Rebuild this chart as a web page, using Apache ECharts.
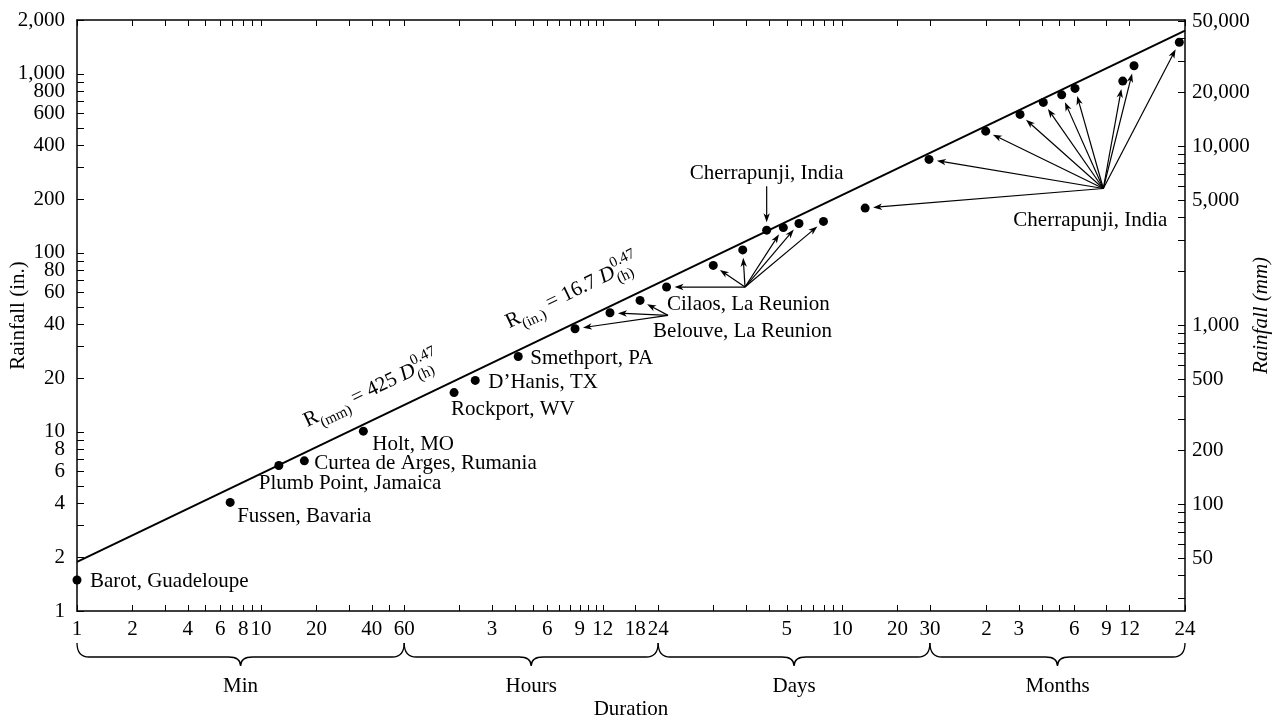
<!DOCTYPE html>
<html>
<head>
<meta charset="utf-8">
<script src="https://cdn.jsdelivr.net/npm/echarts@6/dist/echarts.min.js"></script>
<style>
html,body{margin:0;padding:0;background:#fff}
#chart{width:1279px;height:723px}
</style>
</head>
<body>
<div id="chart"></div>
<script>
// ---------------- data (durations in minutes, rainfall in inches) ----------------
const stationNames = ['Barot, Guadeloupe', 'Fussen, Bavaria', 'Plumb Point, Jamaica', 'Curtea de Arges, Rumania',
  'Holt, MO', 'Rockport, WV', "D\u2019Hanis, TX", 'Smethport, PA'];
const stationDuration = [1, 6.8, 12.5, 17.2, 36, 112, 146, 250];
const stationRainfall = [1.49, 4.04, 6.5, 6.9, 10.1, 16.6, 19.4, 26.4];

const belouveDuration = [509, 788, 1148];
const belouveRainfall = [37.7, 46.3, 54.3];

const cilaosDuration = [1600, 2870, 4150, 6900, 8390, 11400];
const cilaosRainfall = [64.5, 85.2, 104, 138.5, 146, 150];

const cherraDayDuration = [5600];
const cherraDayRainfall = [134];

const cherraMonthDuration = [19200, 42700, 86800, 133400, 178500, 224700, 265400, 482300, 555400, 979100];
const cherraMonthRainfall = [178, 333, 479, 594, 693, 764, 830, 912, 1111, 1502];

// label/arrow source points (where the pointer arrows start)
const sourceNames = ['Belouve, La Reunion', 'Cilaos, La Reunion', 'Cherrapunji, India', 'Cherrapunji, India'];
const sourceDuration = [1630, 4270, 5600, 378200];
const sourceRainfall = [44.8, 64.5, 236, 229];

// envelope line R = 16.7 D^0.47
const envelopeDuration = [1, 1051200];
const envelopeRainfall = [1.88, 1746];

// equation annotations
const equationUnits = ['(mm)', '(in.)'];
const equationCoefs = ['425', '16.7'];
const equationDuration = [17.9, 224];
const equationRainfall = [10.6, 37.7];

// axis ticks
const xTickValues = [1, 2, 3, 4, 5, 6, 7, 8, 9, 10, 20, 30, 40, 50, 60,
  120, 180, 240, 300, 360, 420, 480, 540, 600, 660, 720, 1080, 1440,
  2880, 4320, 5760, 7200, 8640, 10080, 11520, 12960, 14400, 28800, 43200,
  87600, 131400, 175200, 219000, 262800, 394200, 525600, 1051200];
const xLabelValues = [1, 2, 4, 6, 8, 10, 20, 40, 60, 180, 360, 540, 720, 1080, 1440,
  7200, 14400, 28800, 43200, 87600, 131400, 262800, 394200, 525600, 1051200];
const xLabelTexts = ['1', '2', '4', '6', '8', '10', '20', '40', '60', '3', '6', '9', '12', '18', '24',
  '5', '10', '20', '30', '2', '3', '6', '9', '12', '24'];

const yTickValues = [1, 2, 3, 4, 5, 6, 7, 8, 9, 10, 20, 30, 40, 50, 60, 70, 80, 90, 100,
  200, 300, 400, 500, 600, 700, 800, 900, 1000, 2000];
const yLabelValues = [1, 2, 4, 6, 8, 10, 20, 40, 60, 80, 100, 200, 400, 600, 800, 1000, 2000];

const mmTickValues = [30, 40, 50, 60, 70, 80, 90, 100, 200, 300, 400, 500, 600, 700, 800, 900, 1000,
  2000, 3000, 4000, 5000, 6000, 7000, 8000, 9000, 10000, 20000, 30000, 40000, 50000];
const mmLabelValues = [50, 100, 200, 500, 1000, 5000, 10000, 20000, 50000];

const periodBounds = [1, 60, 1440, 43200, 1051200];
const periodNames = ['Min', 'Hours', 'Days', 'Months'];

// ---------------- styling ----------------
const FONT = '"Liberation Serif", "Times New Roman", serif';
const FS = 21;
const stationLabelOffset = [[13, 1], [7, 14], [-20, 18], [10, 3], [9, 13], [-3, 17], [13, 2], [12, 2]];
const sourceLabelStyle = [[-15, 16, 'left'], [-78, 17, 'left'], [0, -13, 'center'], [-13, 32, 'center']];

// ---------------- build series data ----------------
const dotData = [];
stationNames.forEach((n, i) => {
  dotData.push({
    value: [stationDuration[i], stationRainfall[i]],
    label: {
      show: true, formatter: n, position: 'inside', align: 'left', verticalAlign: 'middle',
      offset: stationLabelOffset[i], color: '#000', fontFamily: FONT, fontSize: FS, opacity: 1
    }
  });
});
[[belouveDuration, belouveRainfall], [cilaosDuration, cilaosRainfall],
 [cherraDayDuration, cherraDayRainfall], [cherraMonthDuration, cherraMonthRainfall]].forEach(([ds, rs]) => {
  ds.forEach((d, i) => dotData.push({ value: [d, rs[i]] }));
});

const arrowData = [];
[[belouveDuration, belouveRainfall], [cilaosDuration, cilaosRainfall],
 [cherraDayDuration, cherraDayRainfall], [cherraMonthDuration, cherraMonthRainfall]].forEach(([ds, rs], g) => {
  ds.forEach((d, i) => arrowData.push([sourceDuration[g], sourceRainfall[g], d, rs[i]]));
});

const sourceData = sourceNames.map((n, i) => ({
  value: [sourceDuration[i], sourceRainfall[i]],
  label: {
    show: true, formatter: n, position: 'inside', align: sourceLabelStyle[i][2], verticalAlign: 'middle',
    offset: [sourceLabelStyle[i][0], sourceLabelStyle[i][1]], color: '#000', fontFamily: FONT, fontSize: FS, opacity: 1
  }
}));

const periodData = periodNames.map((n, i) => [periodBounds[i], periodBounds[i + 1]]);
const equationData = equationUnits.map((u, i) => [equationDuration[i], equationRainfall[i]]);

function xLabel(v) {
  let best = -1, bd = 1e9;
  xLabelValues.forEach((t, i) => {
    const d = Math.abs(Math.log10(v) - Math.log10(t));
    if (d < bd) { bd = d; best = i; }
  });
  return bd < 0.01 ? xLabelTexts[best] : '';
}
const numFmt = v => Math.round(v).toLocaleString('en-US');

const eqRich = {
  m: { fontSize: FS, fontFamily: FONT, fill: '#000', lineHeight: 32, verticalAlign: 'middle' },
  i: { fontSize: FS, fontFamily: FONT, fontStyle: 'italic', fill: '#000', lineHeight: 32, verticalAlign: 'middle' },
  sb: { fontSize: 15, fontFamily: FONT, fill: '#000', verticalAlign: 'bottom' },
  sp: { fontSize: 15, fontFamily: FONT, fill: '#000', verticalAlign: 'top' },
  gm: { fontSize: FS, fontFamily: FONT, fill: 'rgba(0,0,0,0)', lineHeight: 32, verticalAlign: 'middle' },
  gi: { fontSize: FS, fontFamily: FONT, fontStyle: 'italic', fill: 'rgba(0,0,0,0)', lineHeight: 32, verticalAlign: 'middle' },
  gsb: { fontSize: 15, fontFamily: FONT, fill: 'rgba(0,0,0,0)', verticalAlign: 'bottom' }
};

const axisLineStyle = { color: '#000', width: 1.5 };
const tickStyle = { color: '#000', width: 1 };
const labelStyle = { color: '#000', fontFamily: FONT, fontSize: FS };

const chart = echarts.init(document.getElementById('chart'), null, { renderer: 'canvas' });
chart.setOption({
  animation: false,
  backgroundColor: '#fff',
  grid: { left: 77, right: 94, top: 20, bottom: 112, containLabel: false, outerBoundsMode: 'none' },
  xAxis: [{
    type: 'log', logBase: 10, min: 1, max: 1051200, position: 'bottom',
    axisLine: { lineStyle: axisLineStyle },
    axisTick: { inside: true, length: 6, customValues: xTickValues, lineStyle: tickStyle },
    axisLabel: Object.assign({ customValues: xLabelValues, formatter: xLabel, margin: 8, hideOverlap: false }, labelStyle),
    splitLine: { show: false }, minorTick: { show: false }, minorSplitLine: { show: false },
    name: 'Duration', nameLocation: 'middle', nameGap: 88, nameMoveOverlap: false,
    nameTextStyle: { color: '#000', fontFamily: FONT, fontSize: FS }
  }, {
    type: 'log', logBase: 10, min: 1, max: 1051200, position: 'top',
    axisLine: { lineStyle: axisLineStyle },
    axisTick: { inside: true, length: 6, customValues: xTickValues, lineStyle: tickStyle },
    axisLabel: { show: false }, splitLine: { show: false }
  }],
  yAxis: [{
    type: 'log', logBase: 10, min: 1, max: 2000, position: 'left',
    axisLine: { lineStyle: axisLineStyle },
    axisTick: { inside: true, length: 7, customValues: yTickValues, lineStyle: tickStyle },
    axisLabel: Object.assign({ customValues: yLabelValues, formatter: numFmt, margin: 12, hideOverlap: false }, labelStyle),
    splitLine: { show: false },
    name: 'Rainfall (in.)', nameLocation: 'middle', nameGap: 48, nameRotate: 90, nameMoveOverlap: false,
    nameTextStyle: { color: '#000', fontFamily: FONT, fontSize: FS }
  }, {
    type: 'log', logBase: 10, min: 25.4, max: 50800, position: 'right',
    axisLine: { lineStyle: axisLineStyle },
    axisTick: { inside: true, length: 7, customValues: mmTickValues, lineStyle: tickStyle },
    axisLabel: Object.assign({ customValues: mmLabelValues, formatter: numFmt, margin: 7, hideOverlap: false }, labelStyle),
    splitLine: { show: false },
    name: 'Rainfall (mm)', nameLocation: 'middle', nameGap: 66, nameRotate: 90, nameMoveOverlap: false,
    nameTextStyle: { color: '#000', fontFamily: FONT, fontSize: FS, fontStyle: 'italic' }
  }],
  series: [{
    type: 'line', xAxisIndex: 0, yAxisIndex: 0, silent: true, z: 2,
    data: envelopeDuration.map((d, i) => [d, envelopeRainfall[i]]),
    showSymbol: false, symbol: 'none', lineStyle: { color: '#000', width: 2, opacity: 1 }
  }, {
    type: 'custom', xAxisIndex: 0, yAxisIndex: 0, silent: true, z: 3, clip: false,
    encode: { x: [0, 2], y: [1, 3] },
    data: arrowData,
    renderItem: function (params, api) {
      const p1 = api.coord([api.value(0), api.value(1)]);
      const p2 = api.coord([api.value(2), api.value(3)]);
      const dx = p2[0] - p1[0], dy = p2[1] - p1[1];
      const len = Math.hypot(dx, dy);
      const ux = dx / len, uy = dy / len;
      const gap = 8, hl = 9, hw = 3.2;
      const tip = [p2[0] - ux * gap, p2[1] - uy * gap];
      const base = [tip[0] - ux * hl, tip[1] - uy * hl];
      return {
        type: 'group', children: [
          { type: 'line', shape: { x1: p1[0], y1: p1[1], x2: base[0] + ux * 3, y2: base[1] + uy * 3 }, style: { stroke: '#000', lineWidth: 1.2 } },
          { type: 'polygon', shape: { points: [tip, [base[0] - uy * hw, base[1] + ux * hw], [base[0] + ux * 2.5, base[1] + uy * 2.5], [base[0] + uy * hw, base[1] - ux * hw]] }, style: { fill: '#000' } }
        ]
      };
    }
  }, {
    type: 'scatter', xAxisIndex: 0, yAxisIndex: 0, silent: true, z: 5, clip: false,
    symbol: 'circle', symbolSize: 9, itemStyle: { color: '#000', opacity: 1 },
    data: dotData
  }, {
    type: 'scatter', xAxisIndex: 0, yAxisIndex: 0, silent: true, z: 6, clip: false,
    symbol: 'circle', symbolSize: 1, itemStyle: { color: '#fff', opacity: 0 },
    data: sourceData
  }, {
    type: 'custom', xAxisIndex: 0, yAxisIndex: 0, silent: true, z: 4, clip: false,
    encode: { x: [0, 1] },
    data: periodData,
    renderItem: function (params, api) {
      const x0 = api.coord([api.value(0), 1])[0];
      const x1 = api.coord([api.value(1), 1])[0];
      const yb = api.coord([api.value(0), 1])[1];
      const yT = yb + 32, yL = yb + 46, yP = yb + 55, r = 12;
      const xm = (x0 + x1) / 2;
      const d = `M${x0} ${yT} Q${x0} ${yL} ${x0 + r} ${yL} L${xm - r} ${yL} Q${xm} ${yL} ${xm} ${yP} ` +
        `M${xm} ${yP} Q${xm} ${yL} ${xm + r} ${yL} L${x1 - r} ${yL} Q${x1} ${yL} ${x1} ${yT}`;
      return {
        type: 'group', children: [
          { type: 'path', shape: { pathData: d }, style: { stroke: '#000', fill: null, lineWidth: 1.3 } },
          { type: 'text', x: xm, y: yb + 75, style: { text: periodNames[params.dataIndex], align: 'center', verticalAlign: 'middle', fontSize: FS, fontFamily: FONT, fill: '#000' } }
        ]
      };
    }
  }, {
    type: 'custom', xAxisIndex: 0, yAxisIndex: 0, silent: true, z: 6, clip: false,
    data: equationData,
    renderItem: function (params, api) {
      const p = api.coord([api.value(0), api.value(1)]);
      const a = api.coord([envelopeDuration[0], envelopeRainfall[0]]);
      const b = api.coord([envelopeDuration[1], envelopeRainfall[1]]);
      const rot = Math.atan2(a[1] - b[1], b[0] - a[0]);
      const i = params.dataIndex;
      const main = `{m|R}{sb|${equationUnits[i]}}{m| = ${equationCoefs[i]} }{i|D}{sp|0.47}`;
      const lower = `{gm|R}{gsb|${equationUnits[i]}}{gm| = ${equationCoefs[i]} }{gi|D}{sb|(h)}`;
      return {
        type: 'group', x: p[0], y: p[1], rotation: rot, children: [
          { type: 'text', x: 0, y: -6, style: { text: main, rich: eqRich, align: 'left', verticalAlign: 'middle' } },
          { type: 'text', x: 0, y: -6, style: { text: lower, rich: eqRich, align: 'left', verticalAlign: 'middle' } }
        ]
      };
    }
  }]
});
</script>
</body>
</html>
